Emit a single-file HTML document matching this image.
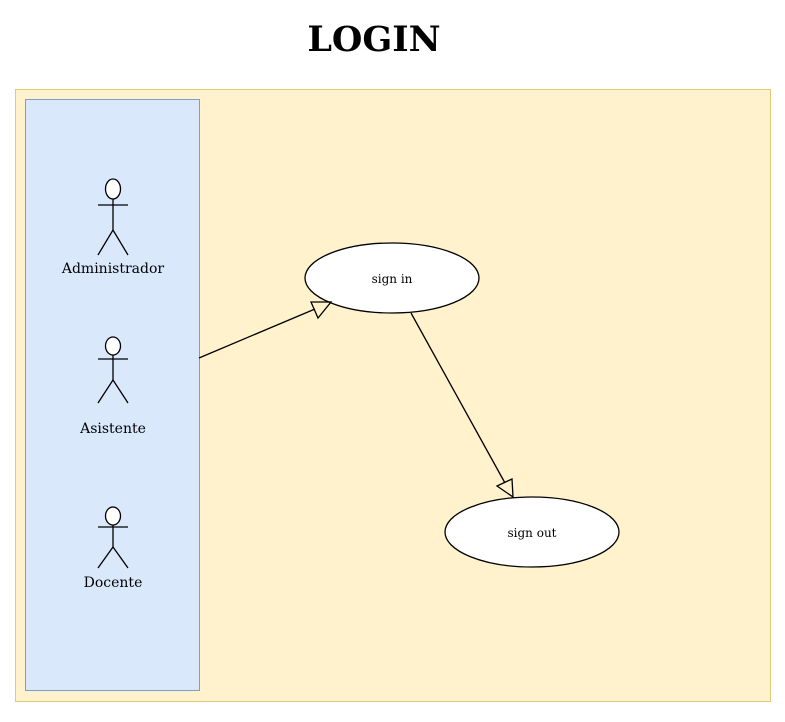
<!DOCTYPE html>
<html><head><style>body{margin:0;background:#fff}</style></head><body>
<svg width="785" height="717" xmlns="http://www.w3.org/2000/svg" font-family="DejaVu Serif, serif">
<text x="374" y="51" text-anchor="middle" font-size="35" font-weight="bold">LOGIN</text>
<rect x="15.5" y="89.5" width="755" height="612" fill="#fff2cc" stroke="#e3c97a"/>
<rect x="25.5" y="99.5" width="174" height="591" fill="#dae8fc" stroke="#7f9ccb"/>
<g stroke="#000" stroke-width="1.3" fill="none">
<ellipse cx="113" cy="189" rx="7.5" ry="10" fill="#fff"/>
<line x1="98" y1="205" x2="128" y2="205"/><line x1="113" y1="199" x2="113" y2="230"/>
<polyline points="98,255 113,230 128,255"/>
<ellipse cx="113" cy="346" rx="7.5" ry="9" fill="#fff"/>
<line x1="98" y1="359" x2="128" y2="359"/><line x1="113" y1="355" x2="113" y2="380"/>
<polyline points="98,403 113,380 128,403"/>
<ellipse cx="113" cy="516" rx="7.5" ry="9" fill="#fff"/>
<line x1="98" y1="527" x2="128" y2="527"/><line x1="113" y1="525" x2="113" y2="547"/>
<polyline points="98,568 113,547 128,568"/>
<ellipse cx="392" cy="278" rx="87" ry="35" fill="#fff"/>
<ellipse cx="532" cy="532" rx="87" ry="35" fill="#fff"/>
<line x1="199" y1="358" x2="315" y2="309"/>
<polygon points="331,302 311,302 318,318" fill="none"/>
<line x1="411" y1="313" x2="505" y2="483"/>
<polygon points="513,497 497,486 512,479" fill="none"/>
</g>
<g font-size="14" text-anchor="middle">
<text x="113" y="273">Administrador</text>
<text x="113" y="433">Asistente</text>
<text x="113" y="587">Docente</text>
</g>
<g font-size="12" text-anchor="middle">
<text x="392" y="283">sign in</text>
<text x="532" y="537">sign out</text>
</g>
</svg>
</body></html>
